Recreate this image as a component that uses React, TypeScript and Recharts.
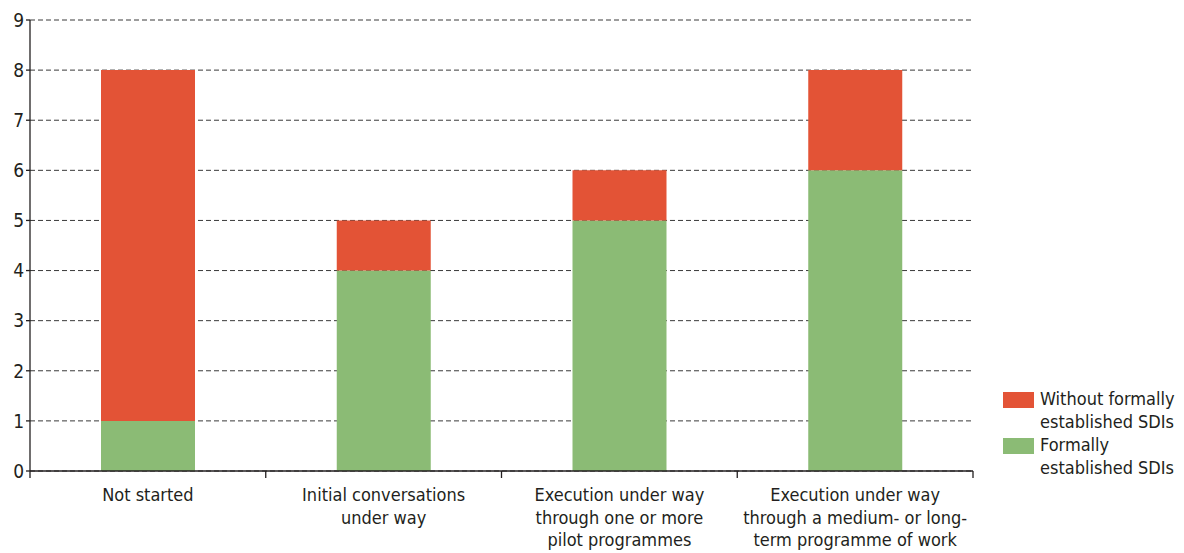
import React from "react";
import { Bar, BarChart, CartesianGrid, XAxis, YAxis } from "recharts";

const categories = [
  "Not started",
  "Initial conversations\nunder way",
  "Execution under way\nthrough one or more\npilot programmes",
  "Execution under way\nthrough a medium- or long-\nterm programme of work"
];
const formallyEstablished = [1, 4, 5, 6];
const withoutFormally = [7, 1, 1, 2];
const yTicks = [0, 1, 2, 3, 4, 5, 6, 7, 8, 9];

const RED = "#e35336";
const GREEN = "#8bbb75";
const TEXT = "#231f20";
const FONT = "'Liberation Sans Narrow', 'DejaVu Sans Condensed', 'Roboto', sans-serif";

const W = 1184;
const H = 553;
const M = { top: 20, right: 211, bottom: 0, left: 0 };
const Y_W = 30;
const X_H = 82;

const data = categories.map((name, i) => ({
  name,
  formal: formallyEstablished[i],
  without: withoutFormally[i]
}));

const halfBand = (W - M.left - M.right - Y_W) / categories.length / 2;

function CategoryTick({ x, y, payload, index }: any) {
  const lines = String(payload.value).split("\n");
  return (
    <g>
      <line x1={x - halfBand} x2={x - halfBand} y1={y - 8} y2={y - 1} stroke={TEXT} strokeWidth={1.3} />
      {index === categories.length - 1 && (
        <line x1={x + halfBand} x2={x + halfBand} y1={y - 8} y2={y - 1} stroke={TEXT} strokeWidth={1.3} />
      )}
      <text x={x} y={y + 22} textAnchor="middle" fill={TEXT} fontSize={18} fontFamily={FONT}>
        {lines.map((line, i) => (
          <tspan key={i} x={x} dy={i === 0 ? 0 : 22.5}>
            {line}
          </tspan>
        ))}
      </text>
    </g>
  );
}

function SideLegend() {
  const items = [
    { color: RED, lines: ["Without formally", "established SDIs"] },
    { color: GREEN, lines: ["Formally", "established SDIs"] }
  ];
  return (
    <div
      style={{
        position: "absolute",
        left: 1003,
        top: 388,
        width: 180,
        fontFamily: FONT,
        fontSize: 18,
        color: TEXT,
        lineHeight: "22.5px"
      }}
    >
      {items.map((item) => (
        <div key={item.color} style={{ display: "flex", alignItems: "flex-start", marginBottom: 1 }}>
          <span
            style={{
              display: "inline-block",
              width: 31,
              height: 16,
              background: item.color,
              marginTop: 4,
              marginRight: 6,
              flexShrink: 0
            }}
          />
          <span>
            {item.lines.map((l) => (
              <div key={l}>{l}</div>
            ))}
          </span>
        </div>
      ))}
    </div>
  );
}

export default function App() {
  return (
    <div style={{ position: "absolute", left: 0, top: 0, width: W, height: H, background: "#fff" }}>
      <BarChart width={W} height={H} data={data} margin={M} barCategoryGap={0}>
        <CartesianGrid vertical={false} stroke="#3a3a3a" strokeDasharray="5 3" />
        <XAxis
          dataKey="name"
          height={X_H}
          interval={0}
          axisLine={{ stroke: TEXT, strokeWidth: 1.3 }}
          tickLine={false}
          tick={<CategoryTick />}
        />
        <YAxis
          width={Y_W}
          domain={[0, 9]}
          ticks={yTicks}
          interval={0}
          axisLine={{ stroke: TEXT, strokeWidth: 1.3 }}
          tickLine={{ stroke: TEXT, strokeWidth: 1.3 }}
          tickSize={4}
          tick={{ fill: TEXT, fontSize: 19, fontFamily: FONT }}
        />
        <Bar dataKey="formal" stackId="a" fill={GREEN} barSize={94} isAnimationActive={false} />
        <Bar dataKey="without" stackId="a" fill={RED} barSize={94} isAnimationActive={false} />
      </BarChart>
      <SideLegend />
    </div>
  );
}
